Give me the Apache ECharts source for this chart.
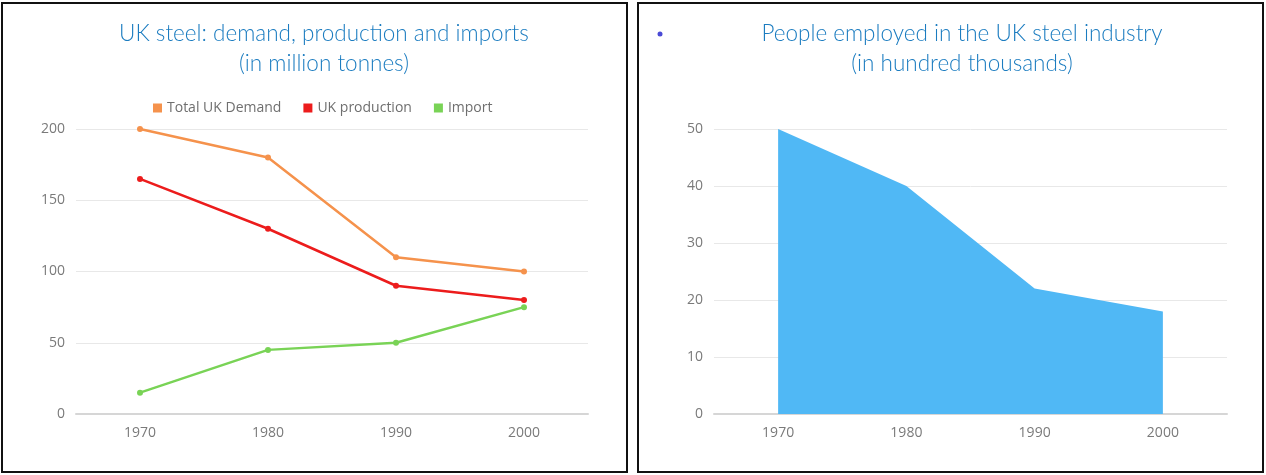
<!DOCTYPE html>
<html>
<head>
<meta charset="utf-8">
<script src="https://cdn.jsdelivr.net/npm/echarts@6/dist/echarts.min.js"></script>
<style>
  html, body { margin: 0; padding: 0; background: #fff; }
  #wrap { position: relative; width: 1266px; height: 475px; }
  #chart { position: absolute; left: 0; top: 0; width: 1266px; height: 475px; }
  .panel { position: absolute; border: 2px solid #111; box-sizing: border-box; pointer-events: none; }
</style>
</head>
<body>
<div id="wrap">
  <div id="chart"></div>
  <div class="panel" style="left:1px;top:2px;width:627px;height:471px"></div>
  <div class="panel" style="left:637px;top:2px;width:627px;height:471px"></div>
</div>
<script>
// categories + values
const years = ['1970', '1980', '1990', '2000']
const totalDemand = [200, 180, 110, 100]
const ukProduction = [165, 130, 90, 80]
const imports = [15, 45, 50, 75]
const employed = [50, 40, 22, 18]

const titleColor = '#1b7cc0'
const labelColor = '#7a7a7a'
const gridColor = '#e8e8e8'

const chart = echarts.init(document.getElementById('chart'), null, { renderer: 'canvas' })

const axisX = (gridIndex) => ({
  type: 'category',
  gridIndex,
  data: years,
  boundaryGap: true,
  axisLine: { lineStyle: { color: '#d6d6d6', width: 2 } },
  axisTick: { show: false },
  axisLabel: { color: labelColor, fontSize: 14, fontFamily: 'Open Sans', margin: 12 },
})

const axisY = (gridIndex, max, interval) => ({
  type: 'value',
  gridIndex,
  min: 0,
  max,
  interval,
  axisLine: { show: false },
  axisTick: { show: false },
  splitLine: { lineStyle: { color: gridColor, width: 1 } },
  axisLabel: { color: labelColor, fontSize: 14, fontFamily: 'Open Sans', margin: 11 },
})

const titleStyle = { color: titleColor, fontSize: 22.5, fontWeight: 300, fontFamily: 'Lato', lineHeight: 30 }

chart.setOption({
  animation: false,
  title: [
    {
      text: 'UK steel: demand, production and imports\n(in million tonnes)',
      left: 319,
      top: 14,
      textAlign: 'center',
      textStyle: titleStyle,
    },
    {
      text: 'People employed in the UK steel industry\n(in hundred thousands)',
      left: 957,
      top: 14,
      textAlign: 'center',
      textStyle: titleStyle,
    },
  ],
  legend: {
    left: 148,
    top: 96,
    itemWidth: 9,
    itemHeight: 9,
    itemGap: 22,
    icon: 'rect',
    textStyle: { color: '#6f6f6f', fontSize: 14, fontFamily: 'Open Sans' },
    data: ['Total UK Demand', 'UK production', 'Import'],
  },
  grid: [
    { left: 76, right: 1266 - 588, top: 129, bottom: 475 - 414 },
    { left: 714, right: 1266 - 1227, top: 129, bottom: 475 - 414 },
  ],
  xAxis: [axisX(0), axisX(1)],
  yAxis: [axisY(0, 200, 50), axisY(1, 50, 10)],
  graphic: [
    { type: 'circle', shape: { cx: 660, cy: 34, r: 2.5 }, style: { fill: '#4a4ad6' } },
  ],
  series: [
    {
      name: 'Total UK Demand',
      type: 'line',
      xAxisIndex: 0,
      yAxisIndex: 0,
      data: totalDemand,
      color: '#f5924c',
      symbol: 'circle',
      symbolSize: 6,
      lineStyle: { width: 2.5 },
    },
    {
      name: 'UK production',
      type: 'line',
      xAxisIndex: 0,
      yAxisIndex: 0,
      data: ukProduction,
      color: '#ec1c1c',
      symbol: 'circle',
      symbolSize: 6,
      lineStyle: { width: 2.5 },
    },
    {
      name: 'Import',
      type: 'line',
      xAxisIndex: 0,
      yAxisIndex: 0,
      data: imports,
      color: '#79d356',
      symbol: 'circle',
      symbolSize: 6,
      lineStyle: { width: 2.5 },
    },
    {
      name: 'Employed',
      type: 'line',
      xAxisIndex: 1,
      yAxisIndex: 1,
      data: employed,
      color: '#50b8f5',
      showSymbol: false,
      lineStyle: { width: 0 },
      areaStyle: { color: '#50b8f5', opacity: 1 },
    },
  ],
})
</script>
</body>
</html>
